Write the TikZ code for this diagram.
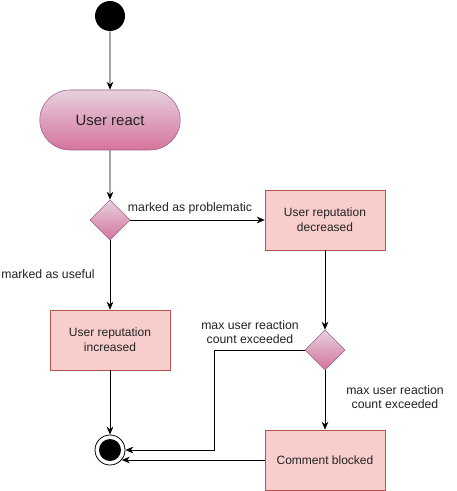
\documentclass[tikz,border=0pt]{standalone}
\usepackage{fontspec}
\setmainfont{Liberation Sans}
\usepackage{xcolor}
\usetikzlibrary{shapes.misc,shapes.geometric,arrows.meta}

\definecolor{boxfill}{HTML}{F8CECC}
\definecolor{boxline}{HTML}{B85450}
\definecolor{gradtop}{HTML}{E6D0DE}
\definecolor{gradbot}{HTML}{D5739D}
\definecolor{gradline}{HTML}{996185}
\definecolor{txt}{HTML}{222222}

\tikzset{
  actbox/.style={draw=boxline, fill=boxfill, rectangle, minimum width=90pt, minimum height=45pt, align=center, text=txt, font=\fontsize{9}{11}\selectfont},
  decision/.style={draw=gradline, diamond, top color=gradtop, bottom color=gradbot, minimum width=30pt, minimum height=30pt, inner sep=0pt, shape aspect=1},
  flow/.style={-{Stealth[length=6pt,width=5pt]}, line width=0.7pt},
  edgelabel/.style={font=\fontsize{9.2}{10.5}\selectfont, align=center, text=txt}
}

\begin{document}
\begin{tikzpicture}[x=0.75pt, y=-0.75pt]
    \useasboundingbox (0,0) rectangle (456,491);

    % Start point
    \node[circle, fill=black, minimum size=22.5pt, inner sep=0pt] (start) at (110,16) {};

    % Reaction
    \node[draw=gradline, rounded rectangle, top color=gradtop, bottom color=gradbot, minimum width=112pt, minimum height=45pt, text=txt, font=\fontsize{11.2}{13}\selectfont] (react) at (110,120) {User react};

    % First decision
    \node[decision] (d1) at (110,220) {};

    % Reputation boxes
    \node[actbox] (dec) at (325,220) {User reputation\\decreased};
    \node[actbox] (inc) at (110,340) {User reputation\\increased};

    % Second decision
    \node[decision] (d2) at (325,350) {};

    % Blocked
    \node[actbox] (block) at (325,460) {Comment blocked};

    % End point
    \node[circle, draw=black, fill=white, minimum size=22.5pt, inner sep=0pt, line width=0.6pt] (final) at (110,450) {};
    \node[circle, fill=black, minimum size=16.5pt, inner sep=0pt] (finalin) at (110,450) {};

    % Connections
    \draw[flow] (start) -- (react);
    \draw[flow] (react) -- (d1);
    \draw[flow] (d1.east) -- (dec.west);
    \draw[flow] (d1.south) -- (inc.north);
    \draw[flow] (dec.south) -- (d2.north);
    \draw[flow] (d2.south) -- (block.north);
    \draw[flow] (inc.south) -- (final.north);
    \draw[flow] (d2.west) -- ++(-90,0) |- (final.east);
    \draw[flow] (block.west) -- (block.west -| final.-40);

    % Labels
    \node[edgelabel] (lprob) at (190,208) {marked as problematic};
    \node[edgelabel] (luse) at (48,274) {marked as useful};
    \node[edgelabel] (lmax1) at (250,332) {max user reaction\\count exceeded};
    \node[edgelabel] (lmax2) at (395,397) {max user reaction\\count exceeded};
\end{tikzpicture}
\end{document}
